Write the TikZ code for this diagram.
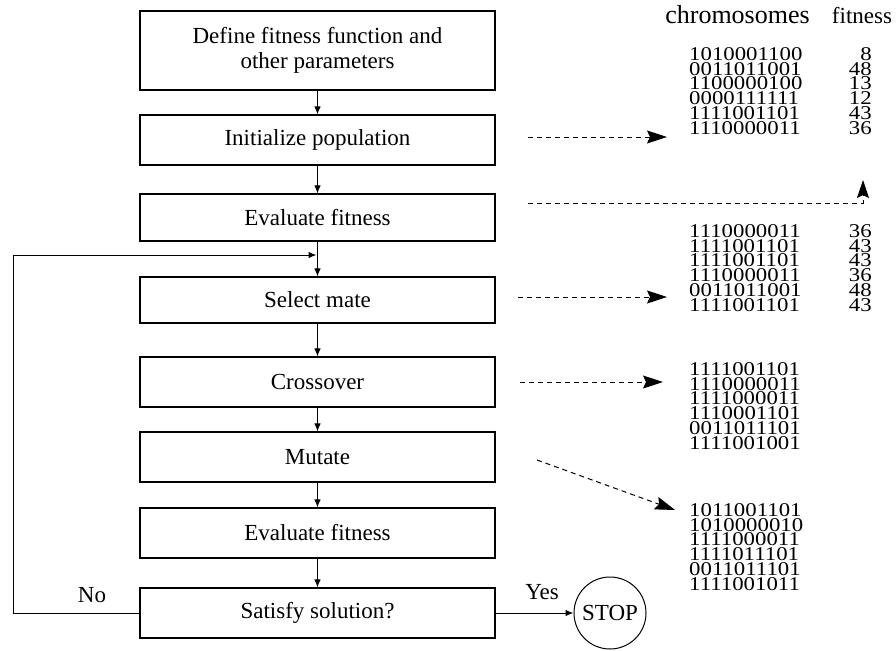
\documentclass[tikz,border=0pt]{standalone}
\usepackage{fontspec}
\setmainfont{Liberation Serif}
\newfontfamily\digitfont[FakeStretch=1.17]{Liberation Serif}
\usetikzlibrary{arrows.meta}
\begin{document}
\begin{tikzpicture}[x=1pt,y=-1pt,
  stepbox/.style={draw, line width=1.1pt, minimum width=355pt, minimum height=50pt,
    inner sep=0pt, align=center, font=\fontsize{23}{25}\selectfont},
  flow/.style={line width=1pt, -{Latex[length=8pt,width=6.5pt]}},
  feed/.style={dash pattern=on 5pt off 4pt, line width=1pt,
    -{Stealth[length=20pt,width=13pt,inset=3pt]}},
  chrom/.style={font=\digitfont\fontsize{19.5}{14.7}\selectfont, inner sep=0pt},
  lbl/.style={font=\fontsize{23}{25}\selectfont, inner sep=0pt}]
\useasboundingbox (0,0) rectangle (896,650);

% main flow of the genetic algorithm
\node[stepbox, minimum height=79pt] (b1) at (317.5,50.5) {Define fitness function and\\other parameters};
\node[stepbox] (b2) at (317.5,140) {Initialize population};
\node[stepbox, minimum height=47pt] (b3) at (317.5,217.5) {Evaluate fitness};
\node[stepbox, minimum height=46pt] (b4) at (317.5,300) {Select mate};
\node[stepbox] (b5) at (317.5,382) {Crossover};
\node[stepbox] (b6) at (317.5,457) {Mutate};
\node[stepbox] (b7) at (317.5,533) {Evaluate fitness};
\node[stepbox] (b8) at (317.5,613) {Satisfy solution?};
\node[draw, circle, line width=1pt, minimum size=72pt, inner sep=0pt,
  font=\fontsize{23}{25}\selectfont] (stop) at (610,613) {STOP};

\draw[flow] (b1.south) -- (b2.north);
\draw[flow] (b2.south) -- (b3.north);
\draw[flow] (b3.south) -- (b4.north);
\draw[flow] (b4.south) -- (b5.north);
\draw[flow] (b5.south) -- (b6.north);
\draw[flow] (b6.south) -- (b7.north);
\draw[flow] (b7.south) -- (b8.north);
\draw[flow] (b8.east) -- (stop.west);

% loop back when the solution is not yet satisfactory
\coordinate (loopcorner) at (13,613);
\coordinate (loopin) at (316.5,255);
\draw[flow] (b8.west) -- (loopcorner) |- (loopin);

\node[lbl] (no) at (92,595) {No};
\node[lbl] (yes) at (542,592) {Yes};

% population tables
\node[font=\fontsize{26}{28}\selectfont, inner sep=0pt, anchor=base] (hchrom) at (737.5,24) {chromosomes};
\node[font=\fontsize{23}{25}\selectfont, inner sep=0pt, anchor=base] (hfit) at (862,24) {fitness};

\foreach \c/\f [count=\i] in {1010001100/8,0011011001/48,1100000100/13,0000111111/12,1111001101/43,1110000011/36}{
  \node[chrom, anchor=base west] (pop\i) at (689,{60.5+14.7*(\i-1)}) {\c};
  \node[chrom, anchor=base east] (pfit\i) at (872,{60.5+14.7*(\i-1)}) {\f};
}
\foreach \c/\f [count=\i] in {1110000011/36,1111001101/43,1111001101/43,1110000011/36,0011011001/48,1111001101/43}{
  \node[chrom, anchor=base west] (sel\i) at (689,{237.5+14.7*(\i-1)}) {\c};
  \node[chrom, anchor=base east] (sfit\i) at (872,{237.5+14.7*(\i-1)}) {\f};
}
\foreach \c [count=\i] in {1111001101,1110000011,1111000011,1110001101,0011011101,1111001001}{
  \node[chrom, anchor=base west] (cro\i) at (689,{375.5+14.7*(\i-1)}) {\c};
}
\foreach \c [count=\i] in {1011001101,1010000010,1111000011,1111011101,0011011101,1111001011}{
  \node[chrom, anchor=base west] (mut\i) at (689,{516.5+14.7*(\i-1)}) {\c};
}

% dashed links from the steps to the tables
\coordinate (d1a) at (528,137);  \coordinate (d1b) at (667,137);
\coordinate (d2a) at (528,203);  \coordinate (d2b) at (863,180);
\coordinate (d3a) at (518,297);  \coordinate (d3b) at (667,297);
\coordinate (d4a) at (520,382);  \coordinate (d4b) at (663,382);
\coordinate (d5a) at (537,460);  \coordinate (d5b) at (675,510);
\draw[feed] (d1a) -- (d1b);
\draw[feed, -{Stealth[length=18pt,width=12pt,inset=3pt]}] (d2a) -| (d2b);
\draw[feed] (d3a) -- (d3b);
\draw[feed] (d4a) -- (d4b);
\draw[feed] (d5a) -- (d5b);
\end{tikzpicture}
\end{document}
